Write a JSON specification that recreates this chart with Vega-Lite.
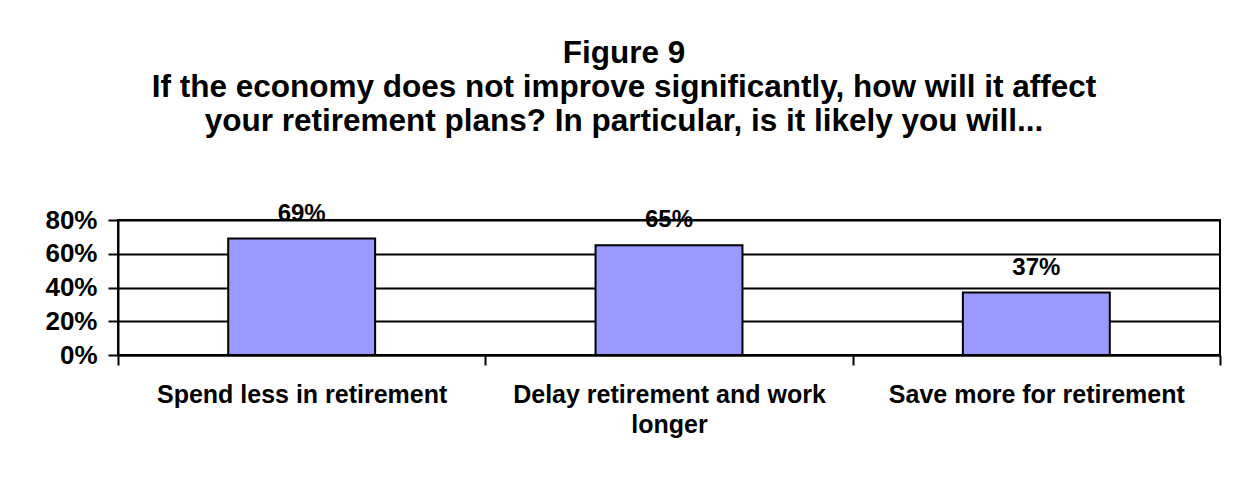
{
  "$schema": "https://vega.github.io/schema/vega-lite/v6.json",
  "width": 1102,
  "height": 135,
  "autosize": "none",
  "padding": {"left": 118, "top": 220, "right": 28, "bottom": 128},
  "background": "white",
  "title": {
    "text": ["Figure 9", "If the economy does not improve significantly, how will it affect", "your retirement plans? In particular, is it likely you will..."],
    "font": "Liberation Sans",
    "fontSize": 31.5,
    "fontWeight": "bold",
    "color": "black",
    "anchor": "middle",
    "dx": -45,
    "lineHeight": 34,
    "offset": 64
  },
  "data": {
    "values": [
      {"category": "Spend less in retirement", "value": 0.69},
      {"category": "Delay retirement and work longer", "value": 0.65},
      {"category": "Save more for retirement", "value": 0.37}
    ]
  },
  "config": {
    "view": {"stroke": "black", "strokeWidth": 2},
    "font": "Liberation Sans"
  },
  "encoding": {
    "x": {
      "field": "category",
      "type": "nominal",
      "sort": null,
      "scale": {"paddingInner": 0, "paddingOuter": 0},
      "axis": {
        "title": null,
        "labelAngle": 0,
        "labelFont": "Liberation Sans",
        "labelFontSize": 25,
        "labelFontWeight": "bold",
        "labelColor": "black",
        "labelPadding": 17,
        "labelLimit": 0,
        "labelLineHeight": 30,
        "labelBaseline": "top",
        "labelExpr": "datum.value == 'Delay retirement and work longer' ? ['Delay retirement and work', 'longer'] : datum.value",
        "tickBand": "extent",
        "tickSize": 10,
        "tickColor": "black",
        "tickWidth": 2,
        "domainColor": "black",
        "domainWidth": 2
      }
    },
    "y": {
      "field": "value",
      "type": "quantitative",
      "scale": {"domain": [0, 0.8], "nice": false},
      "axis": {
        "title": null,
        "values": [0, 0.2, 0.4, 0.6, 0.8],
        "format": ".0%",
        "labelFont": "Liberation Sans",
        "labelFontSize": 26,
        "labelFontWeight": "bold",
        "labelColor": "black",
        "labelPadding": 11,
        "tickSize": 10,
        "tickColor": "black",
        "tickWidth": 2,
        "domainColor": "black",
        "domainWidth": 2,
        "grid": true,
        "gridColor": "black",
        "gridWidth": 2,
        "gridOpacity": 1
      }
    }
  },
  "layer": [
    {
      "mark": {"type": "bar", "color": "#9999FF", "stroke": "black", "strokeWidth": 2, "opacity": 1, "width": {"band": 0.4}}
    },
    {
      "mark": {"type": "text", "font": "Liberation Sans", "fontSize": 24, "fontWeight": "bold", "color": "black", "baseline": "alphabetic", "dy": -18},
      "encoding": {"text": {"field": "value", "type": "quantitative", "format": ".0%"}}
    }
  ]
}
